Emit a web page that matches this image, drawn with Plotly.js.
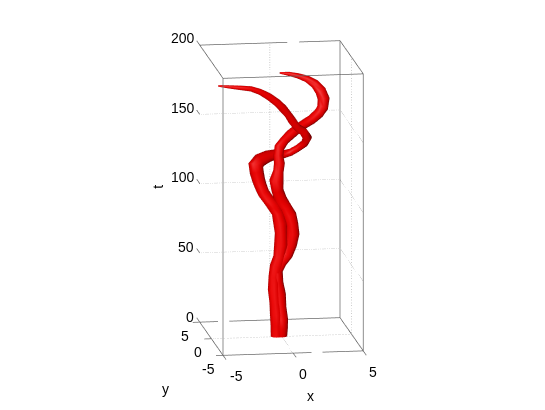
<!DOCTYPE html>
<html>
<head>
<meta charset="utf-8">
<script src="https://cdn.plot.ly/plotly-3.0.1.min.js"></script>
<style>html,body{margin:0;padding:0;background:#fff}#plotArea{width:545px;height:410px}</style>
</head>
<body>
<div id="plotArea"></div>
<script>
// strand ending top left
var x1 = [-4.84,-4.06,-3.28,-2.50,-1.82,-1.15,-.54,-.08,.31,.63,1.02,1.50,1.84,1.69,1.23,.77,.29,-.28,-.86,-1.45,-1.75,-1.70,-1.58,-1.45,-1.26,-.92,-.57,-.28,-.10,-.03,-.03,-.14,-.35,-.50,-.50,-.43,-.35,-.35,-.35];
var y1 = [-2,-2,-2,-2,-1.8,-1.6,-1.4,-1.2,-1,-.8,-.6,-.3,0,.3,.5,.7,.8,.8,.7,.6,.5,.4,.3,.2,.1,0,0,0,0,0,0,0,0,0,0,0,0,0,0];
var t1 = [187.3,186.3,185.4,184.4,181.5,177.3,172.3,167.4,162.5,157.6,152,148.3,143.1,138.2,134.3,131.1,129.6,129.7,128.7,126.3,123,118.2,112.7,108.6,103.8,98.9,94.5,89.3,82.1,74.9,66.3,57.7,50.7,43.5,34.2,24.9,16.2,8.4,.2];
var r1 = [.8,1.6,2.2,2.6,3,3.6,3.9,4.2,3.8,4.2,3.8,4.2,4.6,3.8,3.5,3.6,4,5,6,7,7.6,7,6.5,6.2,6,5.8,6.4,5.9,6.8,6.2,6.9,6.2,6.8,5.9,6.6,6,6.6,6,5.8];

// strand ending top right
var x2 = [.13,.77,1.41,2.05,2.62,3.02,3.22,3.13,2.81,2.28,1.67,1.14,.68,.21,-.18,-.27,-.20,-.27,-.41,-.32,-.09,.28,.58,.75,.80,.68,.40,0,-.35,-.28,-.14,-.07,0,0,0];
var y2 = [1.5,1.5,1.5,1.5,1.5,1.4,1.3,1.2,1,.8,.6,.4,.2,0,-.2,-.3,-.3,-.3,-.3,-.2,-.1,0,0,0,0,0,0,0,0,0,0,0,0,0,0];
var t2 = [186.7,185.8,184.2,181.8,178,173.1,167.6,161.4,157.7,154,151.1,148.1,145.2,141.5,137.1,131.6,125.9,120.2,113.7,106.3,99.5,93.5,87.6,81.1,73.9,66.1,59,53.4,47.8,39.2,30.5,21.2,12.5,6.1,.2];
var r2 = [.8,2,2.6,3.4,4.6,5.6,6,5.6,5.2,4.8,4.6,4.8,5,4.6,5.2,4.8,5.4,5.2,7,6,6.4,6,6.8,6.2,6.7,5.9,5.8,5.2,6.2,5.7,6.3,5.8,6.5,6.3,5.6];

var tTicks = [0,50,100,150,200];
var xTicks = [-5,0,5];
var yTicks = [-5,0,5];

// pixels per data unit, so the tube comes out round on screen
var sx = 14.1, sy = 15.9, st = 1.395;
// light direction in those pixel units, coming from the viewer and a bit from the left
var lx = -0.35, ly = -0.88, lz = 0.32;

function tube(xs, ys, ts, rs) {
    var sides = 12, n = xs.length;
    var vx = [], vy = [], vz = [], fi = [], fj = [], fk = [], colors = [];
    function shade(nx, ny, nz) {
        var l = Math.sqrt(nx * nx + ny * ny + nz * nz);
        var b = Math.max((nx * lx + ny * ly + nz * lz) / l, 0);
        var hi = Math.pow(b, 16);
        return "rgb(" + Math.round(Math.min(85 + 158 * Math.sqrt(b), 255)) + "," + Math.round(70 * hi) + "," + Math.round(70 * hi) + ")";
    }
    for (var a = 0; a < n; a++) {
        var p = Math.max(a - 1, 0), q = Math.min(a + 1, n - 1);
        var dx = (xs[q] - xs[p]) * sx, dy = (ys[q] - ys[p]) * sy, dz = (ts[q] - ts[p]) * st;
        var len = Math.sqrt(dx * dx + dy * dy + dz * dz);
        dx /= len; dy /= len; dz /= len;
        // lumps: radius change tilts the normal along the tube
        var slope = 4 * (rs[q] - rs[p]) / len;
        // first ring vector: tangent x view direction
        var ux = dy * 0.2 - dz * 0.97, uy = dz * 0.16 - dx * 0.2, uz = dx * 0.97 - dy * 0.16;
        var ul = Math.sqrt(ux * ux + uy * uy + uz * uz);
        ux /= ul; uy /= ul; uz /= ul;
        var wx = dy * uz - dz * uy, wy = dz * ux - dx * uz, wz = dx * uy - dy * ux;
        for (var s = 0; s < sides; s++) {
            var c = Math.cos(2 * Math.PI * s / sides), d = Math.sin(2 * Math.PI * s / sides);
            var nx = c * ux + d * wx, ny = c * uy + d * wy, nz = c * uz + d * wz;
            vx.push(xs[a] + rs[a] * nx / sx);
            vy.push(ys[a] + rs[a] * ny / sy);
            vz.push(ts[a] + rs[a] * nz / st);
            colors.push(shade(nx - slope * dx, ny - slope * dy, nz - slope * dz));
        }
    }
    for (var a = 0; a < n - 1; a++) {
        for (var s = 0; s < sides; s++) {
            var v0 = a * sides + s, v1 = a * sides + (s + 1) % sides;
            fi.push(v0, v1); fj.push(v1, v1 + sides); fk.push(v0 + sides, v0 + sides);
        }
    }
    // end caps
    [0, n - 1].forEach(function(a) {
        vx.push(xs[a]); vy.push(ys[a]); vz.push(ts[a]);
        colors.push("rgb(200,0,0)");
        var mid = vx.length - 1;
        for (var s = 0; s < sides; s++) {
            fi.push(mid); fj.push(a * sides + s); fk.push(a * sides + (s + 1) % sides);
        }
    });
    return {
        type: "mesh3d", x: vx, y: vy, z: vz, i: fi, j: fj, k: fk,
        vertexcolor: colors, hoverinfo: "skip", showscale: false,
        lighting: {ambient: 1, diffuse: 0, specular: 0, roughness: 1, fresnel: 0}
    };
}

function path(xs, ys, ts, color, dash) {
    return {
        type: "scatter3d", mode: "lines", x: xs, y: ys, z: ts, hoverinfo: "skip", showlegend: false,
        connectgaps: false,
        line: {color: color, width: dash ? 1 : 1.5, dash: dash || "solid"}
    };
}

var data = [tube(x1, y1, t1, r1), tube(x2, y2, t2, r2)];

// box edges, with the breaks the original has in them
var boxColor = "#6a6a6a";
data.push(path([-5,5,5], [-5,-5,5], [200,200,200], boxColor));
data.push(path([5,2.09,null,1.24,-5,-5,-5], [5,5,null,5,5,-5,-5], [200,200,null,200,200,200,0], boxColor));
data.push(path([-5,1.31,null,2.09,5,5,5], [-5,-5,null,-5,-5,5,5], [0,0,null,0,0,0,200], boxColor));
data.push(path([5,-2.9,null,-3.7,-5], [5,5,null,5,5], [0,0,null,0,0], boxColor));
data.push(path([5,5], [-5,-5], [0,200], boxColor));
data.push(path([-5,-5], [-5,5], [0,0], boxColor));

// dotted grid on the back walls and the floor
var gridColor = "#9c9c9c";
tTicks.slice(1, 4).forEach(function(v) {
    data.push(path([-5,5,5], [5,5,-5], [v,v,v], gridColor, "dot"));
});
data.push(path([-5,5,5], [0,0,0], [0,0,200], gridColor, "dot"));
data.push(path([0,0,0], [-5,5,5], [0,0,200], gridColor, "dot"));

// tick marks stick out of the box
tTicks.forEach(function(v) {
    data.push(path([-5,-5], [5,6.3], [v,v], boxColor));
});
yTicks.forEach(function(v) {
    data.push(path([-5,-5.5], [v,v], [0,0], boxColor));
});
xTicks.forEach(function(v) {
    data.push(path([v,v], [-5,-6.3], [0,0], boxColor));
});

var notes = [];
function label(x, y, z, text, dx, dy, angle) {
    notes.push({x: x, y: y, z: z, text: text, showarrow: false, xshift: dx, yshift: -dy, textangle: angle || 0,
        font: {family: "Liberation Sans", size: 14, color: "#000"}});
}
var tShift = [-9.5, -13.5, -17, -17, -17];
var tRaise = [-5, -6, -6, -6, -7];
var xShift = [13, 9.5, 10];
var yShift = [-15, -13, -14.5];
tTicks.forEach(function(v, n) { label(-5, 5, v, String(v), tShift[n], tRaise[n]); });
xTicks.forEach(function(v, n) { label(v, -5, 0, String(v), xShift[n], 21); });
yTicks.forEach(function(v, n) { label(-5, v, 0, String(v), yShift[n], 14); });
label(0, -5, 0, "x", 17, 43);
label(-5, -5, 0, "y", -58, 34);
label(-5, 5, 100, "t", -41.5, 3, -90);

var axis = {visible: false, showspikes: false};
var layout = {
    width: 545, height: 410, showlegend: false, hovermode: false,
    margin: {l: 0, r: 0, t: 0, b: 0},
    paper_bgcolor: "#fff",
    scene: {
        domain: {x: [0.0331, 1], y: [0.035, 1]},
        aspectmode: "manual",
        aspectratio: {x: 0.802, y: 1.049, z: 1.432},
        camera: {
            projection: {type: "orthographic"},
            up: {x: 0, y: 0, z: 1},
            center: {x: 0, y: 0, z: 0},
            eye: {x: -0.3136, y: -2.096, z: 0.4629}
        },
        xaxis: Object.assign({range: [-5.6, 5.6]}, axis),
        yaxis: Object.assign({range: [-6.6, 6.6]}, axis),
        zaxis: Object.assign({range: [0, 200]}, axis),
        annotations: notes
    }
};
Plotly.newPlot("plotArea", data, layout, {displayModeBar: false});
</script>
</body>
</html>
